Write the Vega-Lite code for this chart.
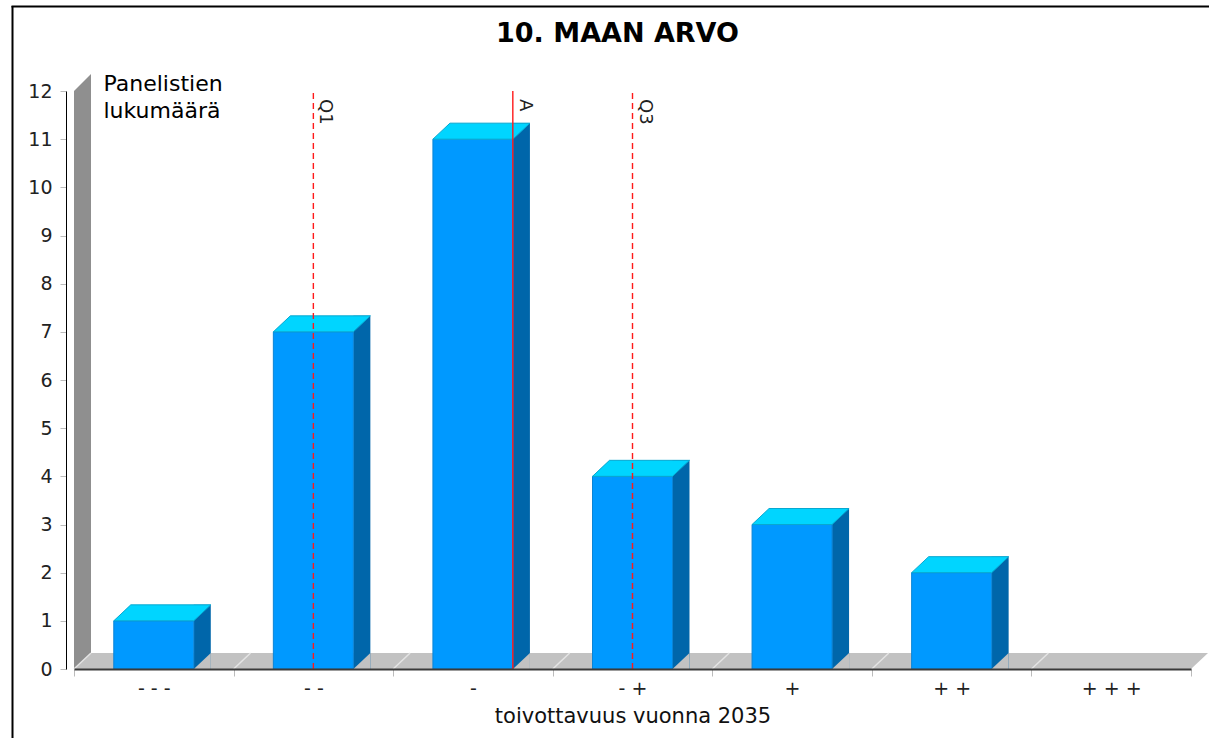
{
  "$schema": "https://vega.github.io/schema/vega-lite/v6.json",
  "width": 1117,
  "height": 578,
  "autosize": "none",
  "padding": {"left": 74, "top": 91, "right": 18, "bottom": 69},
  "background": "white",
  "config": {"view": {"stroke": null}, "font": "DejaVu Sans"},
  "title": {
    "text": "10. MAAN ARVO",
    "font": "DejaVu Sans",
    "fontSize": 27,
    "fontWeight": "bold",
    "color": "#000000",
    "anchor": "middle",
    "dx": -15,
    "offset": -43
  },
  "datasets": {
    "jakauma": [
      {"luokka": "- - -", "lukumaara": 1},
      {"luokka": "- -", "lukumaara": 7},
      {"luokka": "-", "lukumaara": 11},
      {"luokka": "- +", "lukumaara": 4},
      {"luokka": "+", "lukumaara": 3},
      {"luokka": "+ +", "lukumaara": 2},
      {"luokka": "+ + +", "lukumaara": 0}
    ],
    "tunnusluvut": [
      {"tunnus": "Q1", "arvo": 2},
      {"tunnus": "A", "arvo": 3.25},
      {"tunnus": "Q3", "arvo": 4}
    ],
    "pohja": [{}]
  },
  "resolve": {"scale": {"x": "independent"}},
  "layer": [
    {
      "data": {"name": "pohja"},
      "layer": [
        {
          "mark": {"type": "rule", "color": "#000000", "strokeWidth": 2, "xOffset": -61.5, "yOffset": -85, "y2Offset": 69},
          "encoding": {
            "x": {"datum": 0.5, "type": "quantitative", "scale": {"domain": [0.5, 7.5], "nice": false, "zero": false}, "axis": null},
            "y": {"datum": 12, "type": "quantitative", "scale": {"domain": [0, 12], "nice": false, "zero": true}},
            "y2": {"datum": 0}
          }
        },
        {
          "mark": {"type": "rule", "color": "#000000", "strokeWidth": 2, "xOffset": -62.5, "x2Offset": 18, "yOffset": -84.5},
          "encoding": {
            "x": {"datum": 0.5, "type": "quantitative", "scale": {"domain": [0.5, 7.5], "nice": false, "zero": false}, "axis": null},
            "x2": {"datum": 7.5},
            "y": {"datum": 12, "type": "quantitative"}
          }
        },
        {
          "mark": {"type": "rect", "color": "#8f8f8f", "x2Offset": 17},
          "encoding": {
            "x": {"datum": 0.5, "type": "quantitative", "scale": {"domain": [0.5, 7.5], "nice": false, "zero": false}, "axis": null},
            "x2": {"datum": 0.5},
            "y": {"datum": 12, "type": "quantitative"},
            "y2": {"datum": 0}
          }
        },
        {
          "mark": {"type": "point", "shape": "M 0 0 L 17 -17 L 17 0 Z", "size": 4, "filled": true, "fill": "#8f8f8f", "opacity": 1, "strokeWidth": 0},
          "encoding": {
            "x": {"datum": 0.5, "type": "quantitative", "scale": {"domain": [0.5, 7.5], "nice": false, "zero": false}, "axis": null},
            "y": {"datum": 12, "type": "quantitative"}
          }
        },
        {
          "mark": {"type": "rect", "color": "#c2c2c2", "xOffset": 17, "yOffset": -16},
          "encoding": {
            "x": {"datum": 0.5, "type": "quantitative", "scale": {"domain": [0.5, 7.5], "nice": false, "zero": false}, "axis": null},
            "x2": {"datum": 7.5},
            "y": {"datum": 0, "type": "quantitative"},
            "y2": {"datum": 0}
          }
        },
        {
          "mark": {"type": "point", "shape": "M 0 0 L 17 -16 L 17 0 Z", "size": 4, "filled": true, "fill": "#c2c2c2", "opacity": 1, "strokeWidth": 0},
          "encoding": {
            "x": {"datum": 0.5, "type": "quantitative", "scale": {"domain": [0.5, 7.5], "nice": false, "zero": false}, "axis": null},
            "y": {"datum": 0, "type": "quantitative"}
          }
        },
        {
          "mark": {"type": "point", "shape": "M 0 0 L 0 -16 L 17 -16 Z", "size": 4, "filled": true, "fill": "#c2c2c2", "opacity": 1, "strokeWidth": 0},
          "encoding": {
            "x": {"datum": 7.5, "type": "quantitative", "scale": {"domain": [0.5, 7.5], "nice": false, "zero": false}, "axis": null},
            "y": {"datum": 0, "type": "quantitative"}
          }
        }
      ]
    },
    {
      "data": {"name": "jakauma"},
      "layer": [
        {
          "mark": {"type": "point", "shape": "M -79.8 0 L -62.8 -16", "size": 4, "filled": false, "stroke": "#e4e4e4", "strokeWidth": 1.5, "opacity": 1},
          "encoding": {
            "x": {"field": "luokka", "type": "nominal", "scale": {"domain": ["- - -", "- -", "-", "- +", "+", "+ +", "+ + +"], "paddingInner": 0, "paddingOuter": 0}},
            "y": {"datum": 0, "type": "quantitative"}
          }
        },
        {
          "transform": [{"filter": "datum.lukumaara > 0"}],
          "mark": {"type": "bar", "width": 17, "xOffset": 48.5, "yOffset": -16, "color": "#0066aa"},
          "encoding": {
            "x": {"field": "luokka", "type": "nominal", "scale": {"domain": ["- - -", "- -", "-", "- +", "+", "+ +", "+ + +"], "paddingInner": 0, "paddingOuter": 0}},
            "y": {"field": "lukumaara", "type": "quantitative"},
            "y2": {"datum": 0}
          }
        },
        {
          "transform": [{"filter": "datum.lukumaara > 0"}],
          "mark": {"type": "point", "shape": "M 40 0 L 57 -16 L 57 0 Z", "size": 4, "filled": true, "fill": "#c2c2c2", "opacity": 1, "strokeWidth": 0},
          "encoding": {
            "x": {"field": "luokka", "type": "nominal", "scale": {"domain": ["- - -", "- -", "-", "- +", "+", "+ +", "+ + +"], "paddingInner": 0, "paddingOuter": 0}},
            "y": {"datum": 0, "type": "quantitative"}
          }
        },
        {
          "transform": [{"filter": "datum.lukumaara > 0"}],
          "mark": {"type": "bar", "width": 80, "color": "#0099ff", "stroke": "#0a84d6", "strokeWidth": 1},
          "encoding": {
            "x": {
              "field": "luokka",
              "type": "nominal",
              "scale": {"domain": ["- - -", "- -", "-", "- +", "+", "+ +", "+ + +"], "paddingInner": 0, "paddingOuter": 0},
              "axis": {
                "title": "toivottavuus vuonna 2035",
                "titleFont": "DejaVu Sans",
                "titleFontSize": 21,
                "titleFontWeight": "normal",
                "titleColor": "#111111",
                "titlePadding": 7,
                "labelAngle": 0,
                "labelAlign": "center",
                "labelFont": "DejaVu Sans",
                "labelFontSize": 19,
                "labelColor": "#222222",
                "labelPadding": 12,
                "tickBand": "extent",
                "tickColor": "#bbbbbb",
                "tickSize": 7,
                "domainColor": "#3a3a3a",
                "domainWidth": 2,
                "zindex": 1
              }
            },
            "y": {
              "field": "lukumaara",
              "type": "quantitative",
              "scale": {"domain": [0, 12], "nice": false},
              "axis": {
                "values": [0, 1, 2, 3, 4, 5, 6, 7, 8, 9, 10, 11, 12],
                "offset": 8,
                "grid": false,
                "domainColor": "#000000",
                "domainWidth": 1,
                "tickColor": "#bbbbbb",
                "tickSize": 6,
                "labelFont": "DejaVu Sans",
                "labelFontSize": 19,
                "labelColor": "#222222",
                "labelPadding": 8,
                "title": ["Panelistien", "lukumäärä"],
                "titleAngle": 0,
                "titleAlign": "left",
                "titleBaseline": "top",
                "titleX": 37,
                "titleY": -18,
                "titleFont": "DejaVu Sans",
                "titleFontSize": 22,
                "titleFontWeight": "normal",
                "titleColor": "#000000",
                "titleLineHeight": 27
              }
            },
            "y2": {"datum": 0}
          }
        },
        {
          "transform": [{"filter": "datum.lukumaara > 0"}],
          "mark": {"type": "point", "shape": "M -40 0 L 40 0 L 57 -16 L -23 -16 Z", "size": 4, "filled": true, "fill": "#00d5ff", "stroke": "#08a8d0", "strokeWidth": 1, "opacity": 1},
          "encoding": {
            "x": {"field": "luokka", "type": "nominal", "scale": {"domain": ["- - -", "- -", "-", "- +", "+", "+ +", "+ + +"], "paddingInner": 0, "paddingOuter": 0}},
            "y": {"field": "lukumaara", "type": "quantitative"}
          }
        }
      ]
    },
    {
      "data": {"name": "tunnusluvut"},
      "layer": [
        {
          "mark": {"type": "rule", "color": "#ff1a1a", "strokeWidth": 1.4},
          "encoding": {
            "x": {"field": "arvo", "type": "quantitative", "scale": {"domain": [0.5, 7.5], "nice": false, "zero": false}, "axis": null},
            "y": {"datum": 0, "type": "quantitative"},
            "y2": {"datum": 12},
            "strokeDash": {"field": "tunnus", "type": "nominal", "scale": {"domain": ["Q1", "A", "Q3"], "range": [[6, 4], [1, 0], [6, 4]]}, "legend": null}
          }
        },
        {
          "mark": {"type": "text", "angle": 90, "align": "left", "baseline": "alphabetic", "dx": 8, "dy": -7, "font": "DejaVu Sans", "fontSize": 18, "color": "#222222"},
          "encoding": {
            "x": {"field": "arvo", "type": "quantitative", "scale": {"domain": [0.5, 7.5], "nice": false, "zero": false}, "axis": null},
            "y": {"datum": 12, "type": "quantitative"},
            "text": {"field": "tunnus", "type": "nominal"}
          }
        }
      ]
    }
  ]
}
